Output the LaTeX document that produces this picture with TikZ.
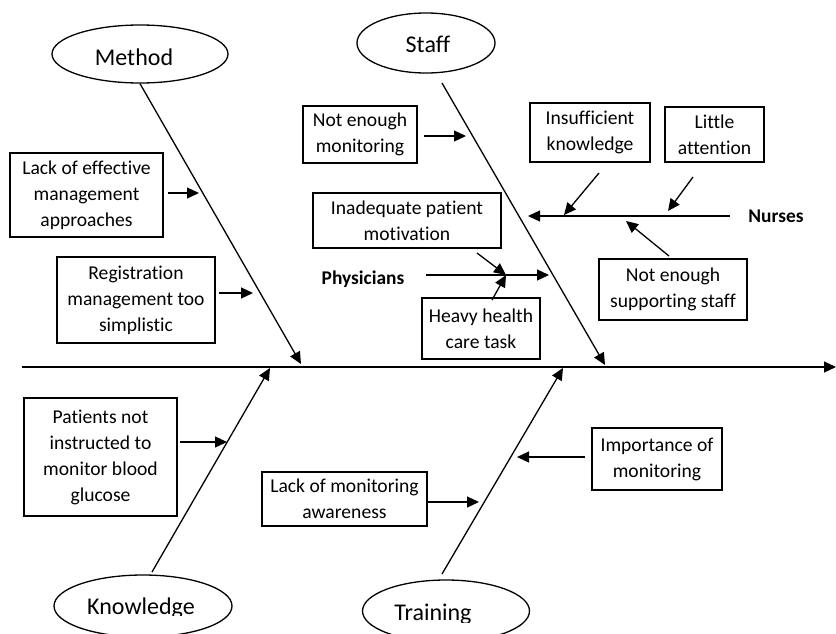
\documentclass[tikz,border=0pt]{standalone}
\usepackage{fontspec}
\setmainfont{Carlito}[Ligatures={NoCommon}]
\usetikzlibrary{arrows.meta,shapes.geometric}
\begin{document}
\begin{tikzpicture}[x=0.5pt,y=-0.5pt,
  line width=0.65pt,
  arr/.style={-{Triangle[length=6pt,width=5.5pt]}},
  box/.style={draw,inner sep=0pt,align=center,font=\fontsize{9.8}{13}\selectfont},
  cat/.style={draw,ellipse,inner sep=0pt},
  cattext/.style={anchor=base,font=\fontsize{12}{14}\selectfont},
  lbl/.style={font=\bfseries\fontsize{9.7}{12}\selectfont}]
\useasboundingbox (0,0) rectangle (836,633);
\clip (0,0) rectangle (836,633);

% category ellipses
\node[cat,minimum width=88pt,minimum height=29pt] (method) at (140,54) {};
\node[cattext] (methodt) at (134,65) {Method};
\node[cat,minimum width=69pt,minimum height=30pt] (staff) at (426,43) {};
\node[cattext] (stafft) at (428,52) {Staff};
\node[cat,minimum width=89pt,minimum height=31pt] (know) at (143,606) {};
\begin{scope}
  \clip (0,0) rectangle (836,615);
  \node[cattext] (knowt) at (141,614) {Knowledge};
\end{scope}
\node[cat,minimum width=83.5pt,minimum height=31pt] (train) at (446,611) {};
\begin{scope}
  \clip (0,0) rectangle (836,622);
  \node[cattext] (traint) at (433,620) {Training};
\end{scope}

% spine and bones
\coordinate (spineL) at (22,367);
\coordinate (spineR) at (836,367);
\draw[arr] (spineL) -- (spineR);
\coordinate (mtip) at (301,364);
\coordinate (stop) at (442,83);
\coordinate (stip) at (605,365);
\coordinate (ktip) at (270,368);
\coordinate (kbot) at (152,572);
\coordinate (ttip) at (563,368);
\coordinate (tbot) at (442,574);
\draw[arr] (method.south) -- (mtip);
\draw[arr] (stop) -- (stip);
\draw[arr] (kbot) -- (ktip);
\draw[arr] (tbot) -- (ttip);

% cause boxes
\node[box,minimum width=76.5pt,minimum height=42pt] (lack) at (86.5,195) {Lack of effective\\management\\approaches};
\node[box,minimum width=79pt,minimum height=43pt] (reg) at (136,300) {Registration\\management too\\simplistic};
\node[box,minimum width=57pt,minimum height=28.5pt] (nem) at (360,134.5) {Not enough\\monitoring};
\node[box,minimum width=94pt,minimum height=27.5pt] (ipm) at (407,220.5) {Inadequate patient\\motivation};
\node[box,minimum width=59pt,minimum height=30.5pt] (heavy) at (481,328.5) {Heavy health\\care task};
\node[box,minimum width=60pt,minimum height=29.5pt] (insuf) at (590,132.5) {Insufficient\\knowledge};
\node[box,minimum width=49.5pt,minimum height=27.5pt] (little) at (714.5,134.5) {Little\\attention};
\node[box,minimum width=74pt,minimum height=30.5pt] (nes) at (673,289.5) {Not enough\\supporting staff};
\node[box,minimum width=76.5pt,minimum height=59pt] (pat) at (100.5,457) {Patients not\\instructed to\\monitor blood\\glucose};
\node[box,minimum width=82.5pt,minimum height=27pt] (lma) at (344.5,499) {Lack of monitoring\\awareness};
\node[box,minimum width=65pt,minimum height=31pt] (imp) at (657,459) {Importance of\\monitoring};

\node[lbl] (phys) at (363,279) {Physicians};
\node[lbl] (nurses) at (776,216) {Nurses};

% arrow tips on bones
\coordinate (t1) at (199,193);
\coordinate (t2) at (253,293);
\coordinate (t3) at (466,136);
\coordinate (pj) at (506,275);
\coordinate (t4) at (549,275);
\coordinate (t5) at (528,216);
\coordinate (t6) at (564,215);
\coordinate (t7) at (668,211);
\coordinate (t8) at (626,221);
\coordinate (t9) at (227,442);
\coordinate (t10) at (479,502);
\coordinate (t11) at (517,457);

% arrow tails
\coordinate (s1) at (168,193);
\coordinate (s2) at (219,293);
\coordinate (s3) at (424,136);
\coordinate (s4) at (426,275);
\coordinate (s5) at (730,216);
\coordinate (s6) at (599,173);
\coordinate (s7) at (693,177);
\coordinate (s8) at (669,256);
\coordinate (s9) at (180,442);
\coordinate (s10) at (428,502);
\coordinate (s11) at (585,457);
\coordinate (s12) at (477,253);
\coordinate (s13) at (492,300);

\draw[arr] (s1) -- (t1);
\draw[arr] (s2) -- (t2);
\draw[arr] (s3) -- (t3);
\draw[arr] (s4) -- (t4);
\draw[arr] (s12) -- (pj);
\draw[arr] (s13) -- (pj);
\draw[arr] (s5) -- (t5);
\draw[arr] (s6) -- (t6);
\draw[arr] (s7) -- (t7);
\draw[arr] (s8) -- (t8);
\draw[arr] (s9) -- (t9);
\draw[arr] (s10) -- (t10);
\draw[arr] (s11) -- (t11);
\end{tikzpicture}
\end{document}
